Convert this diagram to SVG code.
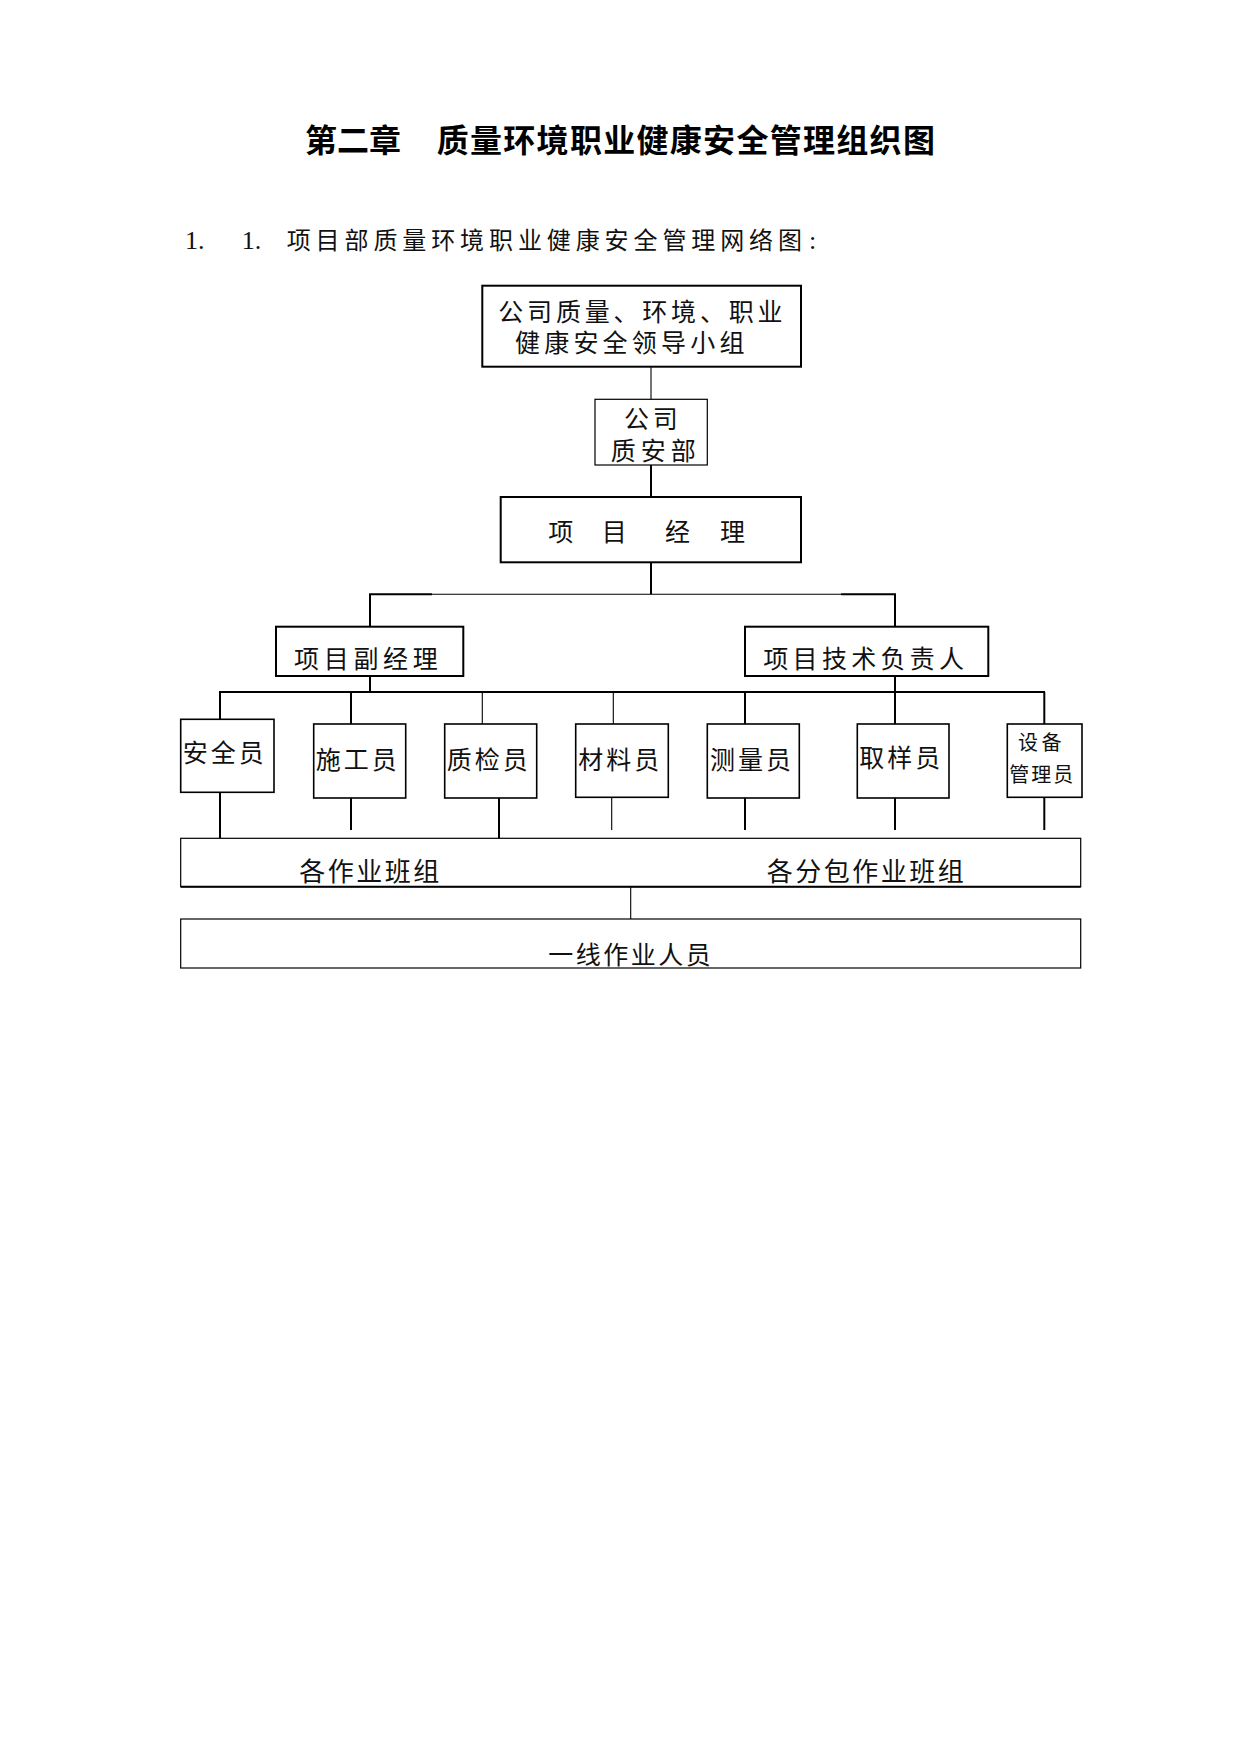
<svg xmlns="http://www.w3.org/2000/svg" width="1241" height="1754" viewBox="0 0 1241 1754">
<style>
.bg{fill:#ffffff}
.box{fill:#ffffff;stroke:#000000;stroke-width:2}
.box1{fill:#ffffff;stroke:#000000;stroke-width:1.2}
.box15{fill:#ffffff;stroke:#000000;stroke-width:1.6}
.t{font-family:"Noto Sans CJK SC","Noto Sans CJK JP",sans-serif;font-size:25px;fill:#111111}
.title{font-family:"Noto Sans CJK SC","Noto Sans CJK JP",sans-serif;font-size:32px;font-weight:bold;fill:#000000}
.num{font-family:"Liberation Serif","Noto Sans CJK SC",serif;font-size:26px;fill:#111111}
.thk{stroke:#000000;stroke-width:2;fill:none}
.thn{stroke:#000000;stroke-width:1.1;fill:none}
</style>
<rect class="bg" x="0" y="0" width="1241" height="1754"/>
<g id="title">
<text class="title" x="305" y="152">第二章</text>
<text class="title" x="436.7" y="152" letter-spacing="1.3">质量环境职业健康安全管理组织图</text>
</g>
<g id="subtitle">
<text class="num" y="249"><tspan x="185">1.</tspan><tspan x="241.7">1.</tspan><tspan x="286.7" y="249" style="font-family:'Noto Sans CJK SC','Noto Sans CJK JP',sans-serif;font-size:24px" letter-spacing="4.9">项目部质量环境职业健康安全管理网络图</tspan><tspan x="809" y="249">:</tspan></text>
</g>
<g id="connectors">
<line class="thn" x1="651" y1="367" x2="651" y2="399"/>
<line class="thk" x1="651" y1="465" x2="651" y2="497"/>
<line class="thk" x1="651" y1="562" x2="651" y2="594.3"/>
<line class="thk" x1="369" y1="594.3" x2="432" y2="594.3"/>
<line class="thn" x1="432" y1="594.3" x2="841" y2="594.3"/>
<line class="thk" x1="841" y1="594.3" x2="896" y2="594.3"/>
<line class="thk" x1="370" y1="594.3" x2="370" y2="627"/>
<line class="thk" x1="895" y1="594.3" x2="895" y2="627"/>
<line class="thk" x1="370" y1="676" x2="370" y2="692"/>
<line class="thk" x1="895" y1="676" x2="895" y2="724"/>
<line class="thk" x1="219" y1="692" x2="1045" y2="692"/>
<line class="thk" x1="220" y1="692" x2="220" y2="719.3"/>
<line class="thk" x1="351" y1="692" x2="351" y2="724"/>
<line class="thn" x1="482.3" y1="692" x2="482.3" y2="724"/>
<line class="thn" x1="613.3" y1="692" x2="613.3" y2="724"/>
<line class="thk" x1="745" y1="692" x2="745" y2="724"/>
<line class="thk" x1="1044.3" y1="692" x2="1044.3" y2="724"/>
<line class="thk" x1="220" y1="792.3" x2="220" y2="838.3"/>
<line class="thk" x1="351" y1="798" x2="351" y2="830"/>
<line class="thk" x1="499" y1="798" x2="499" y2="838.3"/>
<line class="thn" x1="611.7" y1="798" x2="611.7" y2="830"/>
<line class="thk" x1="745" y1="798" x2="745" y2="830"/>
<line class="thk" x1="895" y1="798" x2="895" y2="830"/>
<line class="thk" x1="1044.3" y1="797.3" x2="1044.3" y2="830"/>
<line class="thn" x1="630.7" y1="886.7" x2="630.7" y2="919"/>
</g>
<g id="leadership">
<rect class="box" x="482.3" y="285.7" width="318.7" height="81"/>
<text class="t" x="498.3" y="321" letter-spacing="3.8">公司质量、环境、职业</text>
<text class="t" x="515" y="352" letter-spacing="4.2">健康安全领导小组</text>
</g>
<g id="qsdept">
<rect class="box1" x="595" y="399.3" width="112.3" height="65.7"/>
<text class="t" x="624" y="428" letter-spacing="3.7">公司</text>
<text class="t" x="610.7" y="460" letter-spacing="5">质安部</text>
</g>
<g id="pm">
<rect class="box" x="500.7" y="497" width="300.3" height="65.3"/>
<text class="t" x="548.3 601.7 665 720" y="541">项目经理</text>
</g>
<g id="deputy">
<rect class="box" x="276" y="626.7" width="187.3" height="49.3"/>
<text class="t" x="294" y="668" letter-spacing="4.7">项目副经理</text>
</g>
<g id="techlead">
<rect class="box" x="745" y="626.7" width="243.3" height="49.3"/>
<text class="t" x="763.3" y="668" letter-spacing="4.3">项目技术负责人</text>
</g>
<g id="safety">
<rect class="box15" x="180.7" y="719.3" width="93.3" height="73"/>
<text class="t" x="182.7" y="762" letter-spacing="3">安全员</text>
</g>
<g id="construction">
<rect class="box15" x="313.7" y="724" width="92" height="74"/>
<text class="t" x="315.7" y="769" letter-spacing="3">施工员</text>
</g>
<g id="inspector">
<rect class="box15" x="444.7" y="724" width="92" height="74"/>
<text class="t" x="446.7" y="769" letter-spacing="3">质检员</text>
</g>
<g id="material">
<rect class="box15" x="575.7" y="724" width="92.6" height="73.3"/>
<text class="t" x="578.3" y="769" letter-spacing="3">材料员</text>
</g>
<g id="survey">
<rect class="box15" x="707.3" y="724" width="92" height="74"/>
<text class="t" x="710" y="769" letter-spacing="3">测量员</text>
</g>
<g id="sampler">
<rect class="box15" x="857.3" y="724" width="91.7" height="74"/>
<text class="t" x="859.3" y="767" letter-spacing="3">取样员</text>
</g>
<g id="equipment">
<rect class="box15" x="1007.3" y="724" width="74.7" height="73.3"/>
<text class="t" x="1018" y="750" style="font-size:20px" letter-spacing="3.4">设备</text>
<text class="t" x="1009.3" y="782" style="font-size:20px" letter-spacing="2">管理员</text>
</g>
<g id="teams">
<rect class="box1" x="180.7" y="838.3" width="900" height="48.4"/>
<line class="thk" x1="180.7" y1="886.7" x2="1080.7" y2="886.7"/>
<text class="t" x="299.3" y="881" style="font-size:26px" letter-spacing="2.5">各作业班组</text>
<text class="t" x="766.7" y="881" style="font-size:26px" letter-spacing="2.5">各分包作业班组</text>
</g>
<g id="workers">
<rect class="box1" x="180.7" y="919" width="900" height="49"/>
<text class="t" x="548.3" y="964" letter-spacing="2.5">一线作业人员</text>
</g>
</svg>
